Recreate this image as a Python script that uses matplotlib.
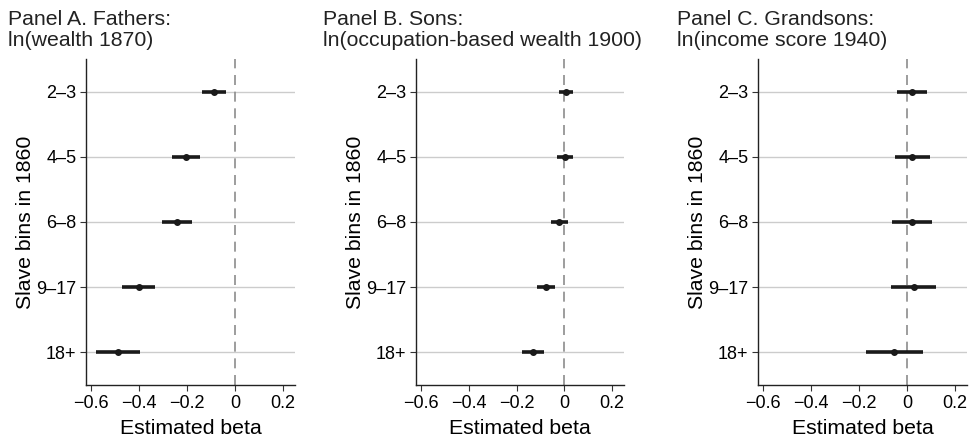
import numpy as np
import matplotlib
matplotlib.use('Agg')
import matplotlib.pyplot as plt

plt.rcParams['font.family'] = ['Liberation Sans', 'DejaVu Sans']
plt.rcParams['axes.unicode_minus'] = True

# ---- data ----
bins = ['2–3', '4–5', '6–8', '9–17', '18+']

titles = ['Panel A. Fathers:\nln(wealth 1870)',
          'Panel B. Sons:\nln(occupation-based wealth 1900)',
          'Panel C. Grandsons:\nln(income score 1940)']

fathers_beta = [-0.088, -0.205, -0.243, -0.400, -0.489]
fathers_lo = [-0.138, -0.264, -0.304, -0.469, -0.579]
fathers_hi = [-0.038, -0.146, -0.179, -0.332, -0.394]

sons_beta = [0.006, 0.001, -0.024, -0.078, -0.131]
sons_lo = [-0.021, -0.032, -0.057, -0.116, -0.179]
sons_hi = [0.035, 0.035, 0.015, -0.040, -0.084]

grandsons_beta = [0.021, 0.021, 0.021, 0.028, -0.054]
grandsons_lo = [-0.043, -0.051, -0.064, -0.068, -0.171]
grandsons_hi = [0.083, 0.094, 0.106, 0.121, 0.065]

panels = [
    (fathers_beta, fathers_lo, fathers_hi),
    (sons_beta, sons_lo, sons_hi),
    (grandsons_beta, grandsons_lo, grandsons_hi),
]

xticks = [-0.6, -0.4, -0.2, 0, 0.2]
xticklabels = ['−0.6', '−0.4', '−0.2', '0', '0.2']

# ---- figure ----
W, H = 969, 442
fig = plt.figure(figsize=(W / 100, H / 100), dpi=100)

# axes boxes in pixels: left, right
ax_px = [(86, 295), (416, 624), (758, 967)]
title_x = [8, 323, 677]
top_px, bot_px = 59, 385

for k, (beta, lo, hi) in enumerate(panels):
    l, r = ax_px[k]
    ax = fig.add_axes([l / W, 1 - bot_px / H, (r - l) / W, (bot_px - top_px) / H])
    y = np.arange(1, len(bins) + 1)

    for yy in y:
        ax.axhline(yy, color='#cccccc', lw=1.0, zorder=0)
    ax.axvline(0, color='#8c8c8c', lw=1.2, ls=(0, (6, 4)), zorder=1)

    ax.hlines(y, lo, hi, color='#1a1a1a', lw=2.6, zorder=3)
    ax.plot(beta, y, 'o', color='#1a1a1a', ms=4, zorder=4)

    ax.set_xlim(-0.621, 0.25)
    ax.set_ylim(5.5, 0.5)
    ax.set_yticks(y)
    ax.set_yticklabels(bins)
    ax.set_xticks(xticks)
    ax.set_xticklabels(xticklabels)
    ax.tick_params(labelsize=13, length=4, width=0.8, color='#333333', pad=3)
    ax.set_xlabel('Estimated beta', fontsize=15.3, labelpad=5)
    ax.set_ylabel('Slave bins in 1860', fontsize=15.3, labelpad=1)

    for s in ['top', 'right']:
        ax.spines[s].set_visible(False)
    for s in ['left', 'bottom']:
        ax.spines[s].set_linewidth(1.0)
        ax.spines[s].set_color('#222222')

    fig.text(title_x[k] / W, 1 - 10 / H, titles[k], fontsize=15.3,
             ha='left', va='top', linespacing=1.15, color='#222222')

fig.savefig('out.png', dpi=100)
